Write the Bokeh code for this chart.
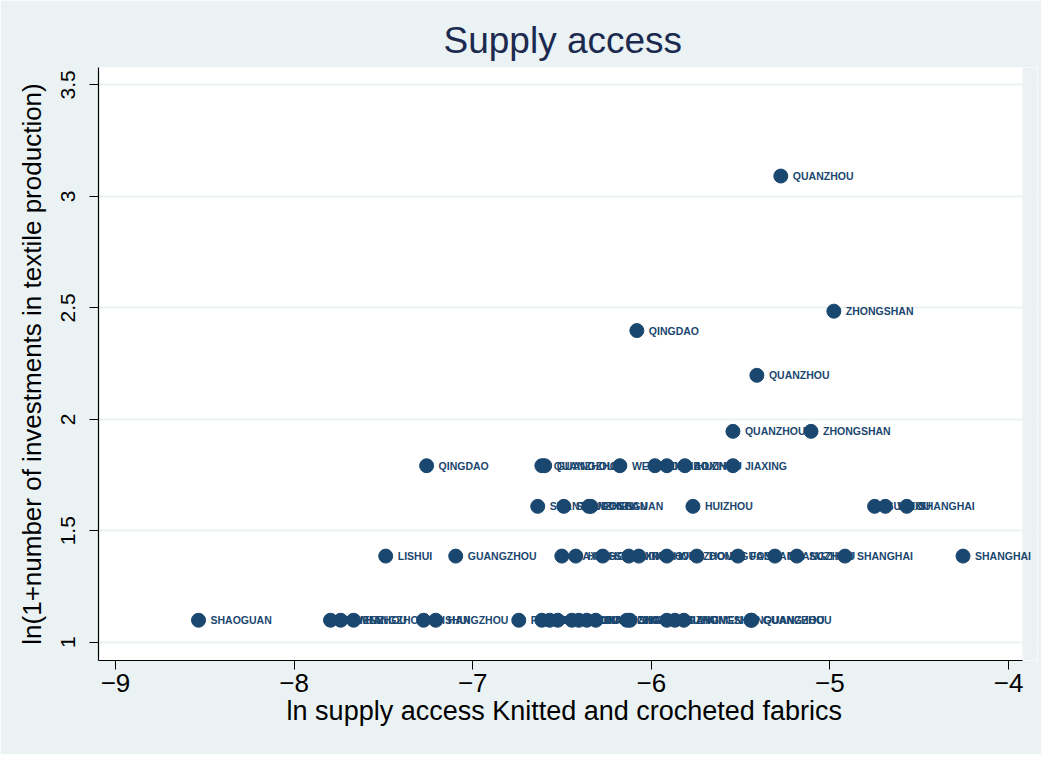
import math
from bokeh.plotting import figure
from bokeh.models import ColumnDataSource, FixedTicker, Range1d, BoxAnnotation
from bokeh.core.properties import value
from bokeh.embed import file_html
from bokeh.resources import INLINE

# ---- data ----
cities = [
    "QUANZHOU",
    "ZHONGSHAN",
    "QINGDAO",
    "QUANZHOU",
    "QUANZHOU", "ZHONGSHAN",
    "QINGDAO", "QUANZHOU", "GUANGZHOU", "WENZHOU", "NINGBO", "SHAOXING", "HUZHOU", "JIAXING",
    "SHANTOU", "SHENZHEN", "DONGGUAN", "FOSHAN", "HUIZHOU", "SUZHOU", "WUXI", "SHANGHAI",
    "LISHUI", "GUANGZHOU", "JIAXING", "HUZHOU", "SHAOXING", "NINGBO", "TAIZHOU", "WENZHOU",
    "DONGGUAN", "FOSHAN", "CHANGZHOU", "SUZHOU", "SHANGHAI", "SHANGHAI",
    "SHAOGUAN", "XIAMEN", "WENZHOU", "HANGZHOU", "LISHUI", "HANGZHOU", "PUTIAN", "JINHUA",
    "TAIZHOU", "NINGBO", "SUZHOU", "WUXI", "CHANGZHOU", "NANTONG", "SHAOXING", "JIAXING",
    "ZHUHAI", "JIANGMEN", "ZHONGSHAN", "GUANGZHOU", "QUANZHOU",
]
supply_access = [
    -5.275,
    -4.978,
    -6.081,
    -5.409,
    -5.543, -5.106,
    -7.258, -6.613, -6.597, -6.176, -5.980, -5.913, -5.812, -5.543,
    -6.636, -6.490, -6.350, -6.338, -5.767, -4.750, -4.690, -4.570,
    -7.487, -7.095, -6.501, -6.423, -6.272, -6.126, -6.070, -5.913,
    -5.745, -5.515, -5.308, -5.185, -4.916, -4.255,
    -8.535, -7.796, -7.739, -7.667, -7.275, -7.207, -6.742, -6.613,
    -6.569, -6.524, -6.445, -6.406, -6.361, -6.311, -6.137, -6.120,
    -5.913, -5.868, -5.818, -5.443, -5.438,
]
investments = [
    21, 11, 10, 8, 6, 6,
    5, 5, 5, 5, 5, 5, 5, 5,
    4, 4, 4, 4, 4, 4, 4, 4,
    3, 3, 3, 3, 3, 3, 3, 3, 3, 3, 3, 3, 3, 3,
    2, 2, 2, 2, 2, 2, 2, 2, 2, 2, 2, 2, 2, 2, 2, 2, 2, 2, 2, 2, 2,
]
y_ticks = [1, 1.5, 2, 2.5, 3, 3.5]
y_tick_labels = ["1", "1.5", "2", "2.5", "3", "3.5"]
x_ticks = [-9, -8, -7, -6, -5, -4]
x_tick_labels = ["\u22129", "\u22128", "\u22127", "\u22126", "\u22125", "\u22124"]

ln_inv = [math.log(1 + n) for n in investments]
src = ColumnDataSource(dict(x=supply_access, y=ln_inv, name=cities))

BG = "#eaf2f3"
NAVY = "#1a476f"
FONT = "Liberation Sans"

X0, X1 = -9.095, -3.922      # plot region (white)
X1_EXT = -3.838              # extra room so labels may run past the plot region

p = figure(width=1041, height=754, output_backend="svg", toolbar_location=None,
           x_range=Range1d(X0, X1_EXT), y_range=Range1d(0.918, 3.578),
           min_border_left=98, min_border_right=4, min_border_top=67, min_border_bottom=94,
           title="Supply access")
p.background_fill_color = "white"
p.border_fill_color = BG
p.outline_line_color = None

p.title.align = "left"
p.title.offset = 345
p.title.text_font = FONT
p.title.text_font_size = "37px"
p.title.text_font_style = "normal"
p.title.text_color = "#1c2a4f"
p.title.standoff = 13

# background strip right of the plot region
p.add_layout(BoxAnnotation(left=X1, fill_color=BG, fill_alpha=1.0,
                           line_color=None, level="underlay"))

p.text(x="x", y="y", text="name", source=src, x_offset=12,
       text_baseline="middle", text_align="left",
       text_font=value(FONT), text_font_size="10.5px", text_font_style="bold",
       text_color=NAVY)
p.scatter(x="x", y="y", source=src, size=14, fill_color=NAVY, line_color=NAVY)

# axes
for ax in (p.xaxis[0], p.yaxis[0]):
    ax.axis_line_color = "black"
    ax.axis_line_width = 1.2
    ax.major_tick_line_color = "black"
    ax.major_tick_out = 9
    ax.major_tick_in = 0
    ax.minor_tick_line_color = None
    ax.major_label_text_font = FONT
    ax.major_label_text_font_size = "26px"
    ax.major_label_text_color = "black"
    ax.axis_label_text_font = FONT
    ax.axis_label_text_font_size = "26px"
    ax.axis_label_text_font_style = "normal"
    ax.axis_label_text_color = "black"

p.xaxis.ticker = FixedTicker(ticks=x_ticks)
p.xaxis.bounds = (X0, X1)
p.xaxis.major_label_overrides = dict(zip(x_ticks, x_tick_labels))
p.xaxis.axis_label = "ln  supply access Knitted and crocheted fabrics"
p.xaxis.axis_label_text_font_size = "27px"
p.xaxis.major_label_standoff = 4
p.xaxis.axis_label_standoff = 1

p.yaxis.ticker = FixedTicker(ticks=y_ticks)
p.yaxis.major_label_overrides = dict(zip(y_ticks, y_tick_labels))
p.yaxis.major_label_orientation = "vertical"
p.yaxis.major_label_text_font_size = "21px"
p.yaxis.axis_label = "ln(1+number of investments in textile production)"
p.yaxis.major_label_standoff = 14
p.yaxis.axis_label_standoff = 12

p.xgrid.grid_line_color = None
p.ygrid.grid_line_color = BG
p.ygrid.grid_line_width = 2

open("out.html", "w").write(file_html(p, INLINE))
